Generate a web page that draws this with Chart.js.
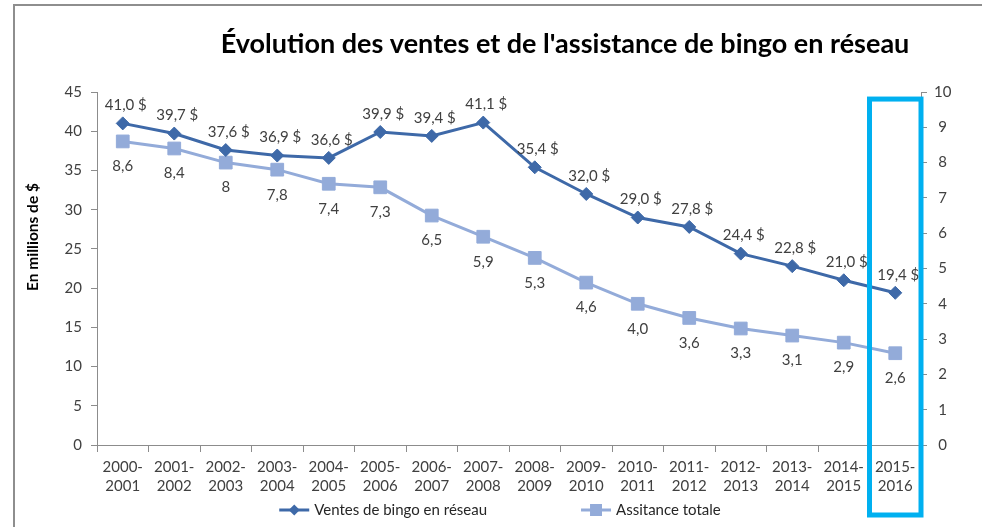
<!DOCTYPE html>
<html>
<head>
<meta charset="utf-8">
<style>
html,body{margin:0;padding:0;background:#ffffff;}
#wrap{width:982px;height:527px;position:relative;}
canvas{display:block;}
</style>
<script src="https://cdn.jsdelivr.net/npm/chart.js@4/dist/chart.umd.min.js"></script>
</head>
<body>
<div id="wrap"><canvas id="c" width="982" height="527"></canvas></div>
<script>
// ---- Data ----
const categories = [
  ['2000-','2001'],['2001-','2002'],['2002-','2003'],['2003-','2004'],
  ['2004-','2005'],['2005-','2006'],['2006-','2007'],['2007-','2008'],
  ['2008-','2009'],['2009-','2010'],['2010-','2011'],['2011-','2012'],
  ['2012-','2013'],['2013-','2014'],['2014-','2015'],['2015-','2016']
];
const ventes = [41.0, 39.7, 37.6, 36.9, 36.6, 39.9, 39.4, 41.1, 35.4, 32.0, 29.0, 27.8, 24.4, 22.8, 21.0, 19.4];
const ventesLabels = ['41,0 $','39,7 $','37,6 $','36,9 $','36,6 $','39,9 $','39,4 $','41,1 $','35,4 $','32,0 $','29,0 $','27,8 $','24,4 $','22,8 $','21,0 $','19,4 $'];
const assistance = [8.6, 8.4, 8.0, 7.8, 7.4, 7.3, 6.5, 5.9, 5.3, 4.6, 4.0, 3.6, 3.3, 3.1, 2.9, 2.6];
const assistanceLabels = ['8,6','8,4','8','7,8','7,4','7,3','6,5','5,9','5,3','4,6','4,0','3,6','3,3','3,1','2,9','2,6'];
const leftTicks = [0, 5, 10, 15, 20, 25, 30, 35, 40, 45];
const rightTicks = [0, 1, 2, 3, 4, 5, 6, 7, 8, 9, 10];
const seriesNames = ['Ventes de bingo en réseau', 'Assitance totale'];
const chartTitle = "Évolution des ventes et de l'assistance de bingo en réseau";
const yAxisTitle = 'En millions de $';
const highlightIndex = 15;

// ---- Styles ----
const DARK = '#3E69A8';
const LIGHT = '#93ABD9';
const AXIS = '#8C8C8C';
const TEXT = '#404040';
const FONT = 'Lato';

Chart.defaults.font.family = FONT;
Chart.defaults.color = TEXT;

const decorPlugin = {
  id: 'decor',
  beforeDraw(chart) {
    const ctx = chart.ctx;
    ctx.save();
    ctx.fillStyle = '#ffffff';
    ctx.fillRect(0, 0, chart.width, chart.height);
    ctx.strokeStyle = '#8E8E8E';
    ctx.lineWidth = 2;
    ctx.beginPath();
    ctx.moveTo(14, chart.height);
    ctx.lineTo(14, 5);
    ctx.lineTo(chart.width, 5);
    ctx.stroke();
    ctx.restore();
  },
  afterDatasetsDraw(chart) {
    const ctx = chart.ctx;
    ctx.save();
    ctx.font = '15px ' + FONT;
    ctx.fillStyle = TEXT;
    ctx.textAlign = 'center';
    ctx.textBaseline = 'middle';
    const m0 = chart.getDatasetMeta(0);
    m0.data.forEach((el, i) => ctx.fillText(ventesLabels[i], el.x + 3, el.y - 18));
    const m1 = chart.getDatasetMeta(1);
    m1.data.forEach((el, i) => ctx.fillText(assistanceLabels[i], el.x, el.y + 25));
    ctx.restore();
  },
  afterDraw(chart) {
    const ctx = chart.ctx;
    const ca = chart.chartArea;
    ctx.save();
    // Title
    ctx.font = 'bold 27px ' + FONT;
    ctx.fillStyle = '#000000';
    ctx.textAlign = 'center';
    ctx.textBaseline = 'middle';
    ctx.fillText(chartTitle, 565, 44);
    // Y axis title
    ctx.save();
    ctx.translate(33, 237);
    ctx.rotate(-Math.PI / 2);
    ctx.font = 'bold 15.5px ' + FONT;
    ctx.fillText(yAxisTitle, 0, 0);
    ctx.restore();
    // Legend
    ctx.font = '15px ' + FONT;
    ctx.textAlign = 'left';
    const lineW = 30, gapT = 5, gapItems = 94;
    const w0 = ctx.measureText(seriesNames[0]).width;
    const w1 = ctx.measureText(seriesNames[1]).width;
    const total = lineW + gapT + w0 + gapItems + lineW + gapT + w1;
    let x = (ca.left + ca.right) / 2 - 9 - total / 2;
    const ly = 510;
    const items = [
      {name: seriesNames[0], color: DARK, shape: 'diamond', w: w0},
      {name: seriesNames[1], color: LIGHT, shape: 'square', w: w1}
    ];
    items.forEach(it => {
      ctx.strokeStyle = it.color;
      ctx.fillStyle = it.color;
      ctx.lineWidth = 3;
      ctx.beginPath();
      ctx.moveTo(x, ly);
      ctx.lineTo(x + lineW, ly);
      ctx.stroke();
      const cx = x + lineW / 2;
      ctx.beginPath();
      if (it.shape === 'diamond') {
        ctx.moveTo(cx - 5.5, ly); ctx.lineTo(cx, ly - 5.5); ctx.lineTo(cx + 5.5, ly); ctx.lineTo(cx, ly + 5.5);
      } else {
        ctx.rect(cx - 6, ly - 6, 12, 12);
      }
      ctx.closePath();
      ctx.fill();
      ctx.fillStyle = '#262626';
      ctx.textBaseline = 'middle';
      ctx.fillText(it.name, x + lineW + gapT, ly);
      x += lineW + gapT + it.w + gapItems;
    });
    // Highlight box
    const xs = chart.scales.x;
    const y1 = chart.scales.y1;
    ctx.strokeStyle = '#00B0F0';
    ctx.lineWidth = 5;
    const l = xs.getPixelForValue(highlightIndex - 0.5);
    const r = xs.getPixelForValue(highlightIndex + 0.5);
    const t = y1.getPixelForValue(9.8);
    const b = chart.height - 12;
    ctx.strokeRect(l, t, r - l, b - t);
    ctx.restore();
  }
};

new Chart(document.getElementById('c'), {
  type: 'line',
  data: {
    labels: categories,
    datasets: [
      {
        label: seriesNames[0],
        data: ventes,
        yAxisID: 'y',
        borderColor: DARK,
        backgroundColor: DARK,
        borderWidth: 3,
        pointStyle: 'rectRot',
        pointRadius: 6.5,
        pointBorderWidth: 1,
        pointBorderColor: DARK,
        pointBackgroundColor: DARK,
        tension: 0,
        fill: false
      },
      {
        label: seriesNames[1],
        data: assistance,
        yAxisID: 'y1',
        borderColor: LIGHT,
        backgroundColor: LIGHT,
        borderWidth: 3,
        pointStyle: 'rect',
        pointRadius: 9,
        pointBorderWidth: 1,
        pointBorderColor: LIGHT,
        pointBackgroundColor: LIGHT,
        tension: 0,
        fill: false
      }
    ]
  },
  options: {
    responsive: false,
    animation: false,
    devicePixelRatio: 1,
    layout: { padding: { top: 92, left: 0, right: 0, bottom: 20 } },
    plugins: {
      legend: { display: false },
      title: { display: false },
      tooltip: { enabled: false }
    },
    scales: {
      x: {
        type: 'category',
        offset: true,
        afterFit(s) { s.height = 62; },
        grid: { display: true, offset: true, drawOnChartArea: false, drawTicks: true, tickLength: 7, color: AXIS },
        border: { display: true, color: AXIS, width: 1 },
        ticks: { color: TEXT, font: { size: 15, lineHeight: 1.3 }, padding: 5, maxRotation: 0, autoSkip: false }
      },
      y: {
        position: 'left',
        min: leftTicks[0],
        max: leftTicks[leftTicks.length - 1],
        afterBuildTicks(s) { s.ticks = leftTicks.map(v => ({ value: v })); },
        afterFit(s) { s.width = 97; },
        grid: { display: true, drawOnChartArea: false, drawTicks: true, tickLength: 6, color: AXIS },
        border: { display: true, color: AXIS, width: 1 },
        ticks: { color: TEXT, font: { size: 15 }, padding: 9 }
      },
      y1: {
        position: 'right',
        min: rightTicks[0],
        max: rightTicks[rightTicks.length - 1],
        afterBuildTicks(s) { s.ticks = rightTicks.map(v => ({ value: v })); },
        afterFit(s) { s.width = 61; },
        grid: { display: true, drawOnChartArea: false, drawTicks: true, tickLength: 6, color: AXIS },
        border: { display: true, color: AXIS, width: 1 },
        ticks: { color: TEXT, font: { size: 15 }, padding: 7, crossAlign: 'center' }
      }
    }
  },
  plugins: [decorPlugin]
});
</script>
</body>
</html>
